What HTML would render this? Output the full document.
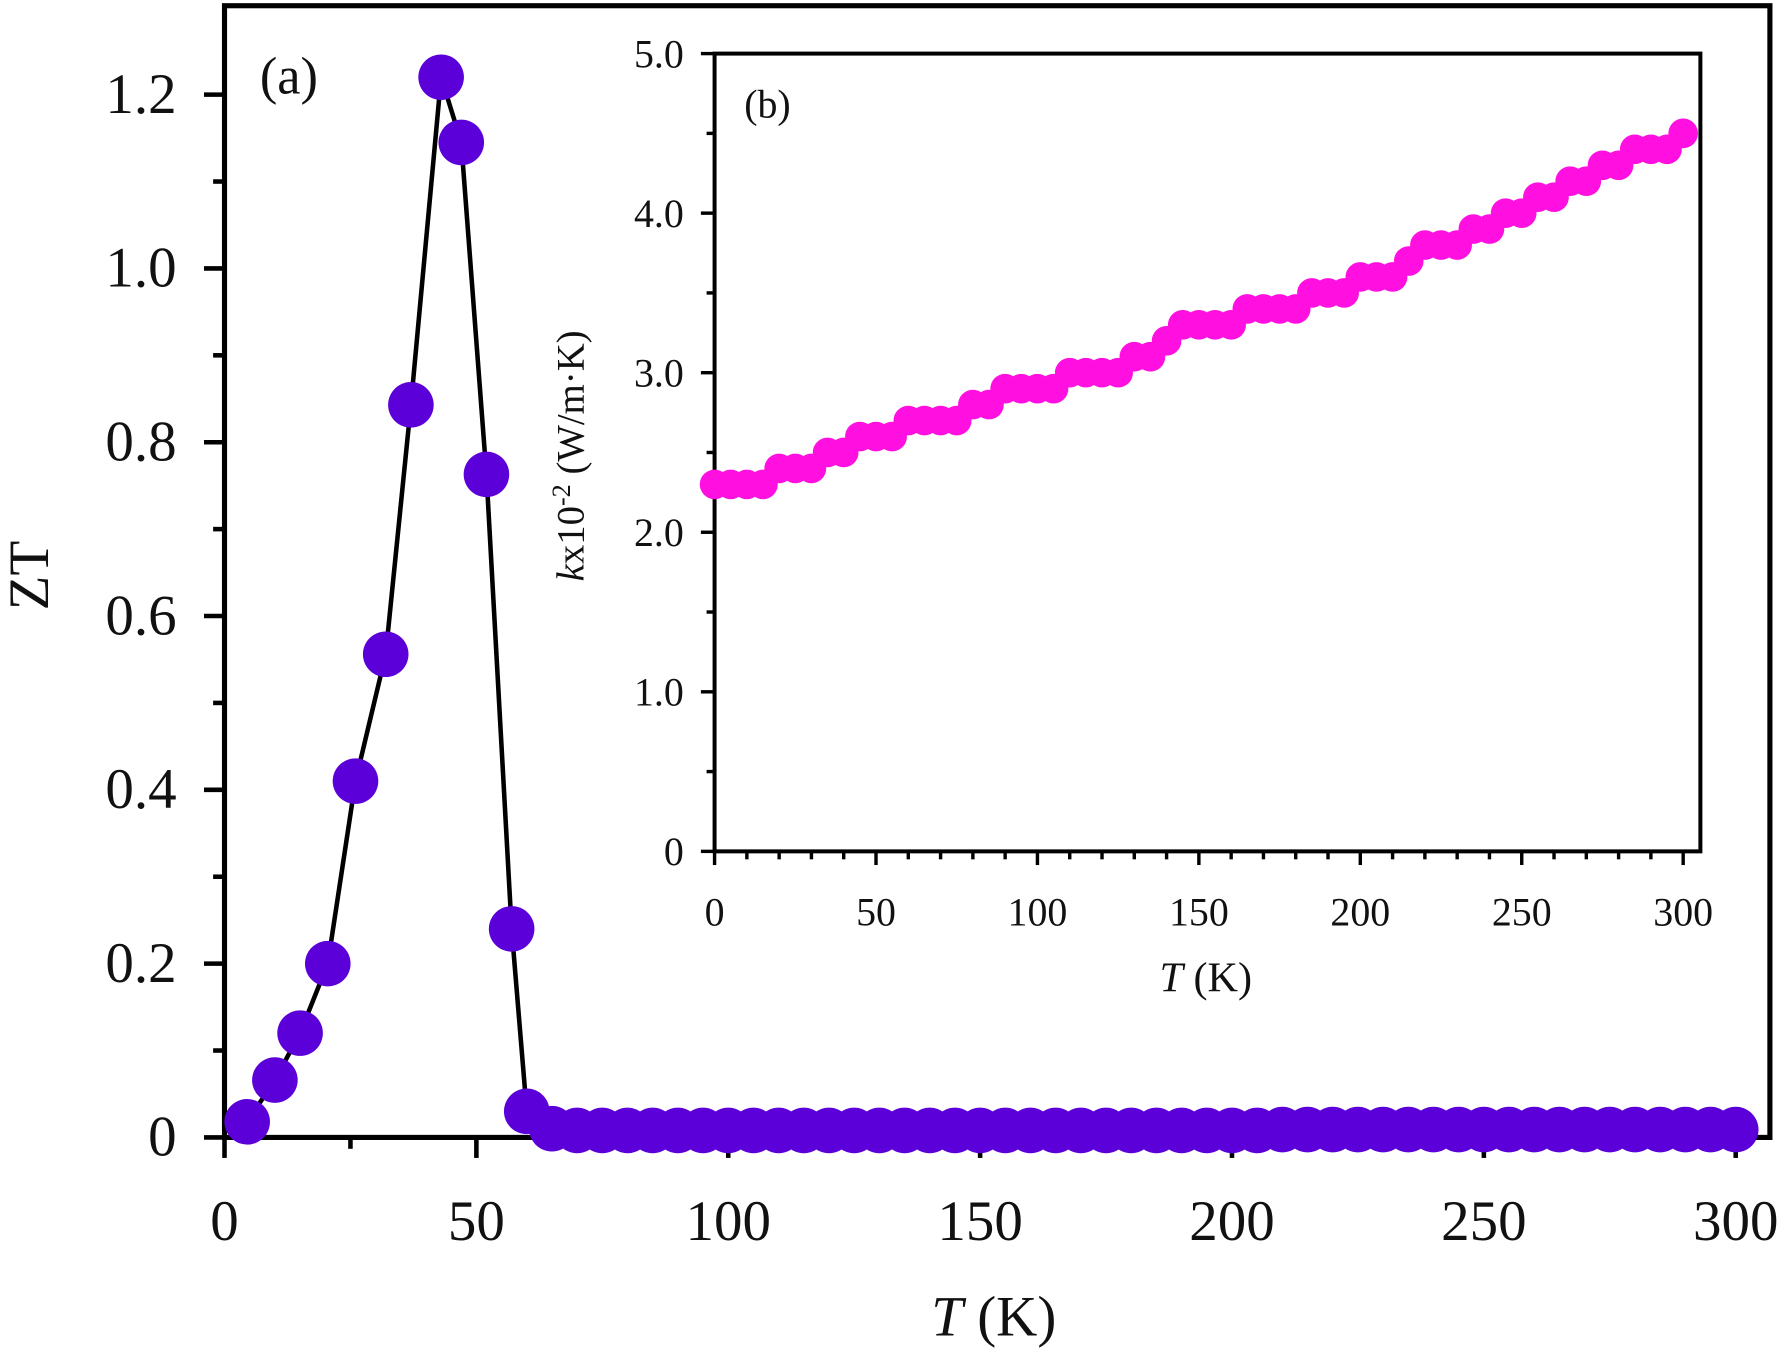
<!DOCTYPE html>
<html><head><meta charset="utf-8"><style>
html,body{margin:0;padding:0;background:#fff}
svg{display:block}
text{font-family:"Liberation Serif",serif;fill:#111}
</style></head><body>
<svg width="1787" height="1350" viewBox="0 0 1568 1184.5">
<g id="main"></g>
<g id="inset"></g>
</svg>
<script>
const ztT=[4.5,10,15,20.5,26,32,37,43,47,52,57,60,65,70,75,80,85,90,95,100,105,110,115,120,125,130,135,140,145,150,155,160,165,170,175,180,185,190,195,200,205,210,215,220,225,230,235,240,245,250,255,260,265,270,275,280,285,290,295,300];
const ztV=[0.018,0.066,0.12,0.2,0.41,0.556,0.843,1.22,1.145,0.763,0.24,0.03,0.01,0.008,0.008,0.008,0.008,0.008,0.008,0.008,0.008,0.008,0.008,0.008,0.008,0.008,0.008,0.008,0.008,0.008,0.008,0.008,0.008,0.008,0.008,0.008,0.008,0.008,0.008,0.008,0.008,0.009,0.009,0.009,0.009,0.009,0.009,0.009,0.009,0.009,0.009,0.009,0.009,0.009,0.009,0.009,0.009,0.009,0.009,0.009];
const mainXTicks=[0,50,100,150,200,250,300];
const mainYTicks=[0,0.2,0.4,0.6,0.8,1.0,1.2];
const mainYLabels=["0","0.2","0.4","0.6","0.8","1.0","1.2"];
const kT=[];for(let t=0;t<=300;t+=5)kT.push(t);
const kV=[2.3,2.3,2.3,2.3,2.4,2.4,2.4,2.5,2.5,2.6,2.6,2.6,2.7,2.7,2.7,2.7,2.8,2.8,2.9,2.9,2.9,2.9,3.0,3.0,3.0,3.0,3.1,3.1,3.2,3.3,3.3,3.3,3.3,3.4,3.4,3.4,3.4,3.5,3.5,3.5,3.6,3.6,3.6,3.7,3.8,3.8,3.8,3.9,3.9,4.0,4.0,4.1,4.1,4.2,4.2,4.3,4.3,4.4,4.4,4.4,4.5];
const inXTicks=[0,50,100,150,200,250,300];
const inYTicks=[0,1,2,3,4,5];
const inYLabels=["0","1.0","2.0","3.0","4.0","5.0"];
const NS="http://www.w3.org/2000/svg";
function mk(p,tag,a,txt){const e=document.createElementNS(NS,tag);for(const k in a)e.setAttribute(k,a[k]);if(txt!==undefined)e.textContent=txt;p.appendChild(e);return e;}
const M=document.getElementById('main');
const mx=v=>197+v*4.42, my=v=>998-v*762.5;
mk(M,'rect',{x:197,y:5,width:1356,height:993,fill:'none',stroke:'#000','stroke-width':4.5});
for(let i=0;i<=12;i++){const y=my(i*0.1);const l=mk(M,'line',{x1:197,x2:i%2?187:179,y1:y,y2:y,stroke:'#000','stroke-width':4});}
mainYTicks.forEach((v,i)=>{const t=mk(M,'text',{x:155,y:my(v)+16,'font-size':50,'text-anchor':'end'},mainYLabels[i]);});
for(let v=0;v<=300;v+=25){const x=mx(v);const l=mk(M,'line',{x1:x,x2:x,y1:998,y2:v%50?1008:1016,stroke:'#000','stroke-width':4});}
mainXTicks.forEach(v=>{const t=mk(M,'text',{x:mx(v),y:1088,'font-size':50,'text-anchor':'middle'},String(v));});
let t=mk(M,'text',{x:872,y:1172,'font-size':50,'text-anchor':'middle'});t.innerHTML='<tspan font-style="italic">T</tspan> (K)';
t=mk(M,'text',{x:0,y:0,'font-size':50,'text-anchor':'middle',transform:'translate(42,505) rotate(-90)'},'ZT');
t=mk(M,'text',{x:228,y:82,'font-size':46},'(a)');
let pl=mk(M,'polyline',{points:ztT.map((v,i)=>mx(v)+','+my(ztV[i])).join(' '),fill:'none',stroke:'#000','stroke-width':4});
ztT.forEach((v,i)=>{const c=mk(M,'circle',{cx:mx(v),cy:my(ztV[i]),r:20,fill:'#5b00d8'});});
const I=document.getElementById('inset');
const ix=v=>627+v*2.833, iy=v=>747-v*140;
mk(I,'rect',{x:627,y:47,width:865,height:700,fill:'#fff',stroke:'#000','stroke-width':3.5});
for(let i=0;i<=10;i++){const y=iy(i*0.5);const l=mk(I,'line',{x1:627,x2:i%2?620:615,y1:y,y2:y,stroke:'#000','stroke-width':3});}
inYTicks.forEach((v,i)=>{const e=mk(I,'text',{x:600,y:iy(v)+12,'font-size':35,'text-anchor':'end'},inYLabels[i]);});
for(let v=0;v<=300;v+=10){const x=ix(v);const l=mk(I,'line',{x1:x,x2:x,y1:747,y2:v%50?754:759,stroke:'#000','stroke-width':3});}
inXTicks.forEach(v=>{const e=mk(I,'text',{x:ix(v),y:812,'font-size':35,'text-anchor':'middle'},String(v));});
t=mk(I,'text',{x:1058,y:870,'font-size':37,'text-anchor':'middle'});t.innerHTML='<tspan font-style="italic">T</tspan> (K)';
t=mk(I,'text',{x:0,y:0,'font-size':34,'text-anchor':'middle',transform:'translate(512,400) rotate(-90)'});t.innerHTML='<tspan font-style="italic">k</tspan>x10<tspan dy="-12" font-size="23">-2</tspan><tspan dy="12"> (W/m·K)</tspan>';
t=mk(I,'text',{x:653,y:103,'font-size':35},'(b)');
kT.forEach((v,i)=>{const c=mk(I,'circle',{cx:ix(v),cy:iy(kV[i]),r:13,fill:'#ff10e0'});});
</script>
</body></html>
